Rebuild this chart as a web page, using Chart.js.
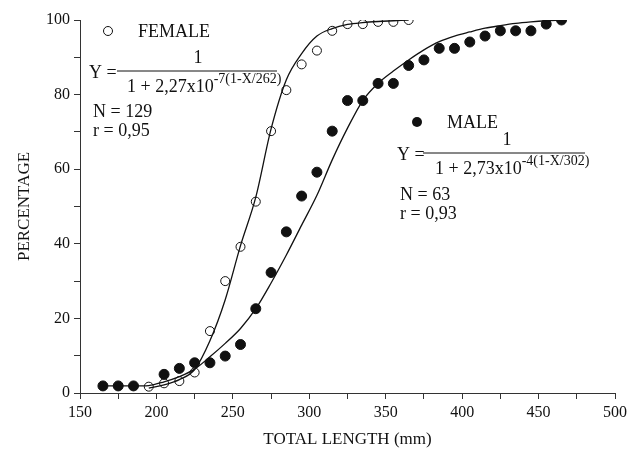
<!DOCTYPE html>
<html>
<head>
<meta charset="utf-8">
<script src="https://cdn.jsdelivr.net/npm/chart.js@4/dist/chart.umd.min.js"></script>
<style>
  html, body { margin: 0; padding: 0; background: #fff; }
</style>
</head>
<body>
<canvas id="grafico" width="631" height="455"></canvas>
<script>
// observed percentages (open = female, filled = male)
const femaleLength = [195, 205, 215, 225, 235, 245, 255, 265, 275, 285, 295, 305, 315, 325, 335, 345, 355, 365];
const femalePct = [1.7, 2.6, 3.2, 5.5, 16.6, 30, 39.2, 51.3, 70.2, 81.2, 88.1, 91.8, 97.1, 98.9, 98.9, 99.5, 99.5, 100];

const maleLength = [165, 175, 185, 205, 215, 225, 235, 245, 255, 265, 275, 285, 295, 305, 315, 325, 335, 345, 355, 365, 375, 385, 395, 405, 415, 425, 435, 445, 455, 465];
const malePct = [1.9, 1.9, 1.9, 5, 6.6, 8.1, 8.1, 9.9, 13, 22.6, 32.3, 43.2, 52.8, 59.2, 70.2, 78.4, 78.4, 83, 83, 87.8, 89.3, 92.4, 92.4, 94.1, 95.7, 97.1, 97.1, 97.1, 98.9, 100];

// fitted curves
const femaleFitX = [195, 205, 215, 225, 235, 245, 255, 265, 275, 285, 295, 305, 315, 325, 335, 345, 355, 365];
const femaleFitY = [1.3, 2.2, 3.6, 6.3, 14, 25, 39.5, 52.5, 70.8, 84, 91, 95.7, 97.7, 98.8, 99.3, 99.6, 99.8, 100];

const maleFitX = [165, 175, 185, 195, 205, 215, 225, 235, 245, 255, 265, 275, 285, 295, 305, 315, 325, 335, 345, 355, 365, 375, 385, 395, 405, 415, 425, 435, 445, 455, 465];
const maleFitY = [1.9, 1.9, 1.9, 2.0, 3.0, 4.4, 6.4, 9.7, 13.3, 17.3, 22.6, 29.5, 37, 45, 53, 62.5, 71, 78.4, 83, 86.3, 89.3, 92, 94.2, 95.7, 96.8, 97.8, 98.5, 99.1, 99.5, 99.8, 100];

const xTicks = [150, 200, 250, 300, 350, 400, 450, 500];
const yTicks = [0, 20, 40, 60, 80, 100];

const fonte = "'Liberation Serif', 'Times New Roman', serif";
const tinta = '#111';

function pares(xs, ys) {
  return xs.map((x, i) => ({ x: x, y: ys[i] }));
}

// equation block: Y = 1 / (1 + coef x10^expo)
function equacao(c, e) {
  c.font = `18px ${fonte}`;
  c.textAlign = 'left';
  c.fillText('Y =', e.yx, e.linha + 7);
  c.beginPath();
  c.lineWidth = 1;
  c.moveTo(e.x0, e.linha);
  c.lineTo(e.x1, e.linha);
  c.stroke();
  c.textAlign = 'center';
  c.fillText('1', e.num, e.linha - 8);
  c.textAlign = 'left';
  c.fillText(e.base, e.den, e.linha + 21);
  const w = c.measureText(e.base).width;
  c.font = `14px ${fonte}`;
  c.fillText(e.expo, e.den + w, e.linha + 12);
}

const notas = {
  id: 'notas',
  afterDraw(chart) {
    const c = chart.ctx;
    c.save();
    c.fillStyle = tinta;
    c.strokeStyle = tinta;
    c.textBaseline = 'alphabetic';

    // female
    c.beginPath();
    c.lineWidth = 1;
    c.arc(108, 31, 4.5, 0, Math.PI * 2);
    c.stroke();
    c.font = `18px ${fonte}`;
    c.fillText('FEMALE', 138, 37);
    equacao(c, { yx: 89, linha: 71, x0: 117, x1: 277, num: 198, den: 127, base: '1 + 2,27x10', expo: '-7(1-X/262)' });
    c.font = `18px ${fonte}`;
    c.textAlign = 'left';
    c.fillText('N = 129', 93, 117);
    c.fillText('r = 0,95', 93, 136);

    // male
    c.beginPath();
    c.arc(417, 122, 5, 0, Math.PI * 2);
    c.fill();
    c.font = `18px ${fonte}`;
    c.fillText('MALE', 447, 128);
    equacao(c, { yx: 397, linha: 153, x0: 423, x1: 585, num: 507, den: 435, base: '1 + 2,73x10', expo: '-4(1-X/302)' });
    c.font = `18px ${fonte}`;
    c.textAlign = 'left';
    c.fillText('N = 63', 400, 200);
    c.fillText('r = 0,93', 400, 219);
    c.restore();
  }
};

Chart.defaults.font.family = fonte;
Chart.defaults.color = tinta;

const ctx = document.getElementById('grafico');

new Chart(ctx, {
  type: 'scatter',
  data: {
    datasets: [
      {
        label: 'Female fit',
        data: pares(femaleFitX, femaleFitY),
        showLine: true,
        pointRadius: 0,
        borderColor: tinta,
        borderWidth: 1.3,
        cubicInterpolationMode: 'monotone'
      },
      {
        label: 'Male fit',
        data: pares(maleFitX, maleFitY),
        showLine: true,
        pointRadius: 0,
        borderColor: tinta,
        borderWidth: 1.3,
        cubicInterpolationMode: 'monotone'
      },
      {
        label: 'FEMALE',
        data: pares(femaleLength, femalePct),
        pointRadius: 4.5,
        borderWidth: 1,
        borderColor: tinta,
        backgroundColor: 'rgba(0,0,0,0)'
      },
      {
        label: 'MALE',
        data: pares(maleLength, malePct),
        pointRadius: 5,
        borderWidth: 1,
        borderColor: tinta,
        backgroundColor: tinta
      }
    ]
  },
  options: {
    responsive: false,
    animation: false,
    devicePixelRatio: 1,
    layout: { padding: { top: 20, right: 14, left: 0, bottom: 0 } },
    plugins: {
      legend: { display: false },
      tooltip: { enabled: false }
    },
    scales: {
      x: {
        type: 'linear',
        min: 150,
        max: 500,
        afterFit(scale) { scale.height = 62; },
        border: { display: true, color: '#333', width: 1 },
        grid: { drawOnChartArea: false, drawTicks: true, tickLength: 6, tickColor: '#333' },
        ticks: {
          stepSize: 25,
          autoSkip: false,
          maxRotation: 0,
          padding: 4,
          font: { size: 16 },
          callback: v => xTicks.includes(v) ? v : ''
        },
        title: {
          display: true,
          text: 'TOTAL LENGTH (mm)',
          font: { size: 17 },
          padding: { top: 0, bottom: 5 }
        }
      },
      y: {
        min: 0,
        max: 100,
        afterFit(scale) { scale.width = 80; },
        border: { display: true, color: '#333', width: 1 },
        grid: { drawOnChartArea: false, drawTicks: true, tickLength: 6, tickColor: '#333' },
        ticks: {
          stepSize: 10,
          autoSkip: false,
          padding: 4,
          font: { size: 16 },
          callback: v => yTicks.includes(v) ? v : ''
        },
        title: {
          display: true,
          text: 'PERCENTAGE',
          font: { size: 17 },
          padding: { top: 14, bottom: 0 }
        }
      }
    }
  },
  plugins: [notas]
});
</script>
</body>
</html>
